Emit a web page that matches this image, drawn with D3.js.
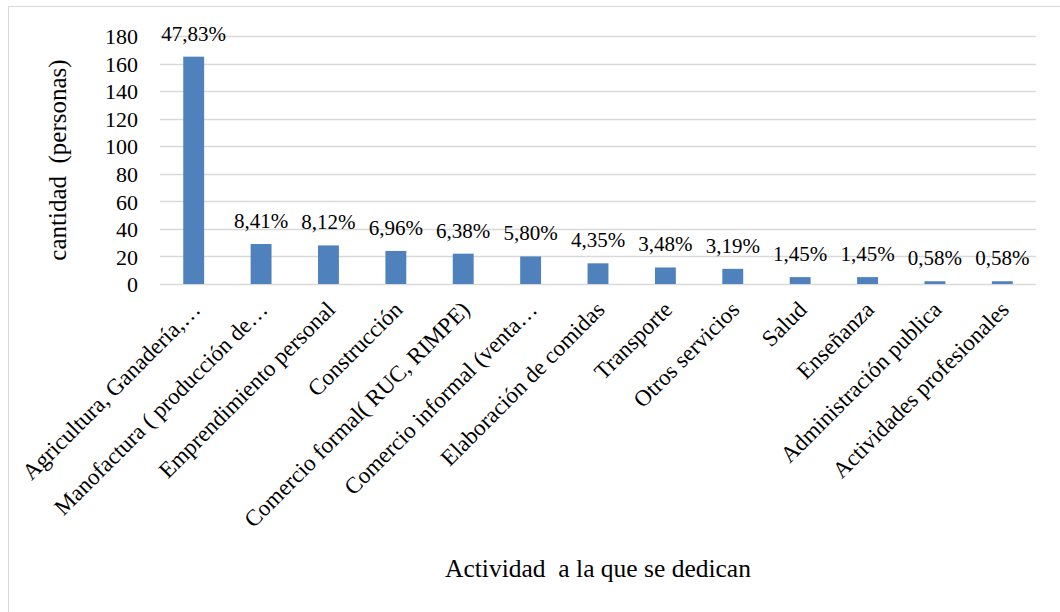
<!DOCTYPE html>
<html>
<head>
<meta charset="utf-8">
<script src="https://cdn.jsdelivr.net/npm/d3@7"></script>
<style>
  body { margin: 0; background: #fff; }
  svg text { font-family: "Liberation Serif", "Times New Roman", "DejaVu Serif", serif !important; fill: #000; }
</style>
</head>
<body>
<div id="chart"></div>
<script>
// categories along the x axis
var categories = [
  "Agricultura, Ganadería,…",
  "Manofactura ( producción de…",
  "Emprendimiento personal",
  "Construcción",
  "Comercio formal( RUC, RIMPE)",
  "Comercio informal (venta…",
  "Elaboración de comidas",
  "Transporte",
  "Otros servicios",
  "Salud",
  "Enseñanza",
  "Administración publica",
  "Actividades profesionales"
];

// number of people per activity
var counts = [165, 29, 28, 24, 22, 20, 15, 12, 11, 5, 5, 2, 2];

// percentage labels shown above the bars
var percents = ["47,83%", "8,41%", "8,12%", "6,96%", "6,38%", "5,80%", "4,35%",
  "3,48%", "3,19%", "1,45%", "1,45%", "0,58%", "0,58%"];

var yTicks = [0, 20, 40, 60, 80, 100, 120, 140, 160, 180];

var width = 1060, height = 612;
var margin = { top: 36, left: 160, right: 24, bottom: 328 };
var innerW = width - margin.left - margin.right,
  innerH = height - margin.top - margin.bottom;

var svg = d3.select("#chart").append("svg")
  .attr("width", width)
  .attr("height", height);

// outer frame
svg.append("rect")
  .attr("x", 8.5)
  .attr("y", 6.5)
  .attr("width", width)
  .attr("height", height)
  .attr("fill", "none")
  .attr("stroke", "#d9d9d9")
  .attr("stroke-width", 1);

var g = svg.append("g")
  .attr("transform", "translate(" + margin.left + "," + margin.top + ")");

var x = d3.scaleBand()
  .domain(categories)
  .range([0, innerW])
  .paddingInner(0.69)
  .paddingOuter(0.345);

var y = d3.scaleLinear()
  .domain([0, 180])
  .range([innerH, 0]);

// gridlines
g.append("g")
  .selectAll("line")
  .data(yTicks)
  .enter().append("line")
  .attr("x1", 0)
  .attr("x2", innerW)
  .attr("y1", function(d) { return Math.round(y(d)) + 0.5; })
  .attr("y2", function(d) { return Math.round(y(d)) + 0.5; })
  .attr("stroke", "#d9d9d9")
  .attr("stroke-width", 1.5);

// y axis labels
var yAxis = g.append("g")
  .call(d3.axisLeft(y).tickValues(yTicks).tickSize(0).tickPadding(22));
yAxis.select(".domain").remove();
yAxis.selectAll("text")
  .style("font-size", "22px")
  .attr("dy", "0.35em");

// bars
g.selectAll(".bar")
  .data(counts)
  .enter().append("rect")
  .attr("class", "bar")
  .attr("x", function(d, i) { return x(categories[i]); })
  .attr("y", function(d) { return y(d); })
  .attr("width", x.bandwidth())
  .attr("height", function(d) { return innerH - y(d); })
  .attr("fill", "#4f81bd");

// percentage labels
g.selectAll(".pct")
  .data(counts)
  .enter().append("text")
  .attr("class", "pct")
  .attr("x", function(d, i) { return x(categories[i]) + x.bandwidth() / 2; })
  .attr("y", function(d) { return y(d) - 16; })
  .attr("text-anchor", "middle")
  .style("font-size", "21px")
  .text(function(d, i) { return percents[i]; });

// x axis labels, rotated
var xAxis = g.append("g")
  .attr("transform", "translate(0," + innerH + ")")
  .call(d3.axisBottom(x).tickSize(0).tickPadding(0));
xAxis.select(".domain").remove();
xAxis.selectAll("text")
  .style("font-size", "23px")
  .attr("text-anchor", "end")
  .attr("dy", "0")
  .attr("transform", "translate(8,27) rotate(-45)");

// axis titles
svg.append("text")
  .attr("x", 598)
  .attr("y", 577)
  .attr("text-anchor", "middle")
  .style("font-size", "25.5px")
  .attr("xml:space", "preserve")
  .text("Actividad  a la que se dedican");

svg.append("text")
  .attr("transform", "translate(66,160) rotate(-90)")
  .attr("text-anchor", "middle")
  .style("font-size", "25px")
  .attr("xml:space", "preserve")
  .text("cantidad  (personas)");
</script>
</body>
</html>
